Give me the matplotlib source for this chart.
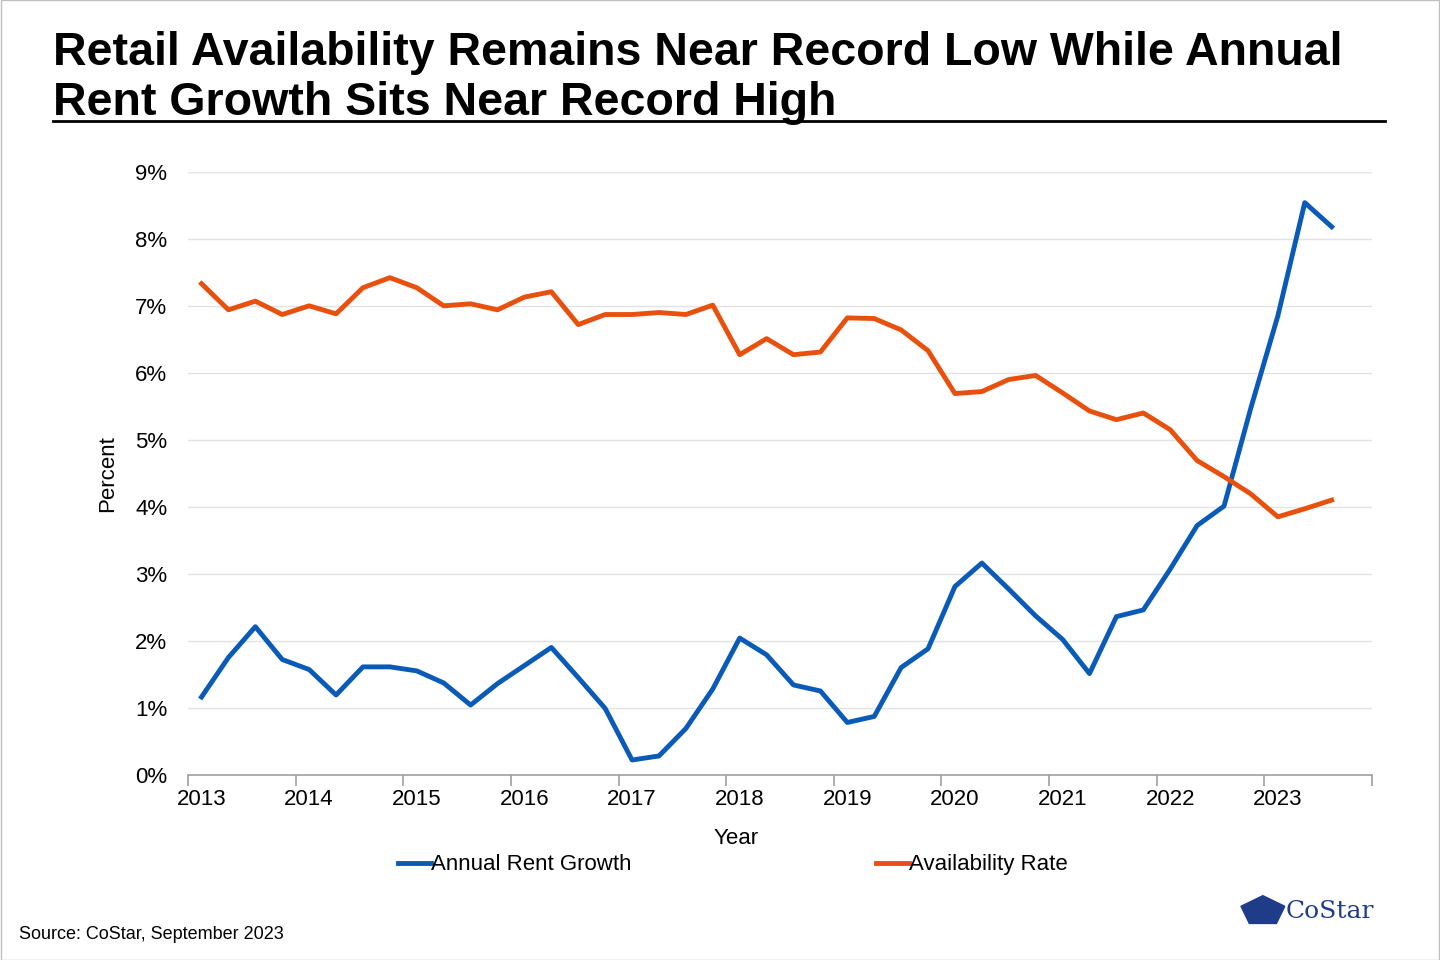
import numpy as np
import matplotlib.pyplot as plt
from matplotlib.patches import Rectangle, RegularPolygon

plt.rcParams['font.family'] = ['Liberation Sans', 'DejaVu Sans']

years = [str(y) for y in range(2013, 2024)]
rent_growth = [1.16, 1.75, 2.21, 1.72, 1.57, 1.19, 1.61, 1.61, 1.55, 1.37, 1.04,
               1.36, 1.63, 1.90, 1.45, 0.99, 0.22, 0.28, 0.69, 1.28, 2.04, 1.79,
               1.34, 1.25, 0.78, 0.87, 1.60, 1.88, 2.81, 3.16, 2.77, 2.37, 2.02,
               1.51, 2.36, 2.46, 3.07, 3.72, 4.01, 5.48, 6.85, 8.54, 8.18]
availability = [7.33, 6.94, 7.07, 6.87, 7.00, 6.88, 7.27, 7.42, 7.27, 7.00, 7.03,
                6.94, 7.13, 7.21, 6.72, 6.87, 6.87, 6.90, 6.87, 7.01, 6.27, 6.51,
                6.27, 6.31, 6.82, 6.81, 6.64, 6.33, 5.69, 5.72, 5.90, 5.96, 5.70,
                5.43, 5.30, 5.40, 5.15, 4.69, 4.45, 4.19, 3.85, 3.97, 4.10]

fig = plt.figure(figsize=(14.4, 9.6), dpi=100)
ax = fig.add_axes([0.1306, 0.193, 0.8222, 0.628])

x = np.arange(len(rent_growth)) + 0.5
ax.plot(x, rent_growth, color='#0a5bb8', lw=3.5, label='Annual Rent Growth')
ax.plot(x, availability, color='#e8500e', lw=3.5, label='Availability Rate')

ax.set_xlim(0, 44)
ax.set_ylim(0, 9)
ax.set_yticks(range(10))
ax.set_yticklabels([f'{i}%' for i in range(10)])
ax.set_xticks(np.arange(0, 45, 4))
ax.set_xticklabels([])
ax.set_xticks(np.arange(0.5, 43, 4), minor=True)
ax.set_xticklabels(years, minor=True)
ax.tick_params(axis='x', which='major', length=8, color='#a0a0a0', width=1.2)
ax.tick_params(axis='x', which='minor', length=0, labelsize=16, pad=10)
ax.tick_params(axis='y', length=0, labelsize=16, pad=15)
ax.grid(axis='y', color='#e3e3e3', lw=1)
for s in ['top', 'right', 'left']:
    ax.spines[s].set_visible(False)
ax.spines['bottom'].set_color('#a0a0a0')
ax.spines['bottom'].set_linewidth(1.2)
ax.set_xlabel('Year', fontsize=16, labelpad=14)
ax.xaxis.set_label_coords(0.463, -0.088)
ax.set_ylabel('Percent', fontsize=16, labelpad=12)

fig.legend(loc='center', bbox_to_anchor=(0.509, 0.099), ncol=2, frameon=False,
           fontsize=16, handlelength=1.5, handletextpad=0.0, columnspacing=11)

fig.text(0.037, 0.945, 'Retail Availability Remains Near Record Low While Annual',
         fontsize=33.5, fontweight='bold', va='center')
fig.text(0.037, 0.893, 'Rent Growth Sits Near Record High',
         fontsize=33.5, fontweight='bold', va='center')
fig.add_artist(plt.Line2D([0.037, 0.962], [0.874, 0.874], color='black', lw=2))

fig.text(0.013, 0.027, 'Source: CoStar, September 2023', fontsize=13, va='center')
fig.add_artist(RegularPolygon((0.877, 0.051), 5, radius=0.016, color='#1f3c88',
                              transform=fig.transFigure))
fig.text(0.893, 0.051, 'CoStar', fontsize=18, family='DejaVu Serif',
         color='#1f3c88', va='center')
fig.add_artist(Rectangle((0.0005, 0.0005), 0.999, 0.999, fill=False,
                         edgecolor='#bfbfbf', lw=1, transform=fig.transFigure))

fig.savefig('out.png', dpi=100)
